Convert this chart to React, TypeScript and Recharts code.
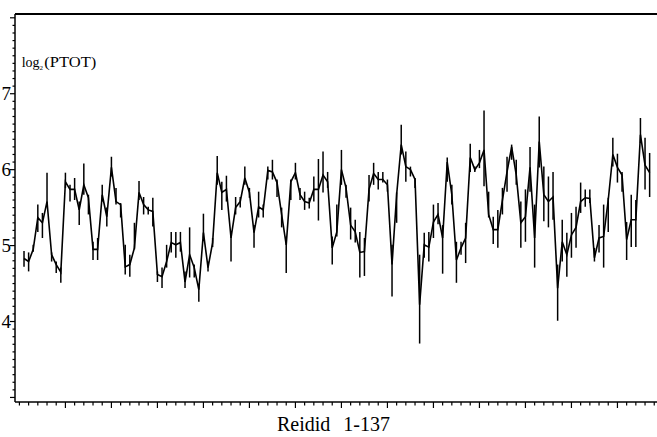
import React from "react";
import {
  LineChart,
  Line,
  XAxis,
  YAxis,
  ErrorBar,
  ReferenceLine,
} from "recharts";

// Mean log2(PTOT) per Reidid, with the low and high of each Reidid's range.
const means = [
  4.83, 4.79, 4.95, 5.37, 5.3, 5.58, 4.88, 4.75, 4.65, 5.84,
  5.74, 5.74, 5.47, 5.8, 5.63, 4.95, 4.95, 5.67, 5.38, 6.03,
  5.58, 5.54, 4.72, 4.75, 4.97, 5.7, 5.54, 5.47, 5.45, 4.62,
  4.59, 4.79, 5.04, 5.01, 5.04, 4.52, 4.88, 4.71, 4.42, 5.17,
  4.71, 5.04, 5.96, 5.7, 5.74, 5.1, 5.5, 5.58, 5.89, 5.7,
  5.17, 5.51, 5.47, 5.99, 5.97, 5.83, 5.41, 5.01, 5.84, 5.96,
  5.67, 5.58, 5.56, 5.74, 5.74, 5.93, 5.84, 4.97, 5.18, 6.0,
  5.76, 5.27, 5.18, 4.91, 4.92, 5.74, 5.95, 5.87, 5.87, 5.8,
  4.75, 5.67, 6.33, 6.04, 6.0, 5.87, 4.22, 5.01, 4.98, 5.31,
  5.41, 5.1, 6.1, 5.67, 4.81, 4.97, 5.1, 6.16, 6.0, 6.09,
  6.26, 5.41, 5.21, 5.21, 5.6, 5.97, 6.3, 5.93, 5.3, 5.38,
  6.03, 5.1, 6.37, 5.67, 5.58, 5.64, 4.44, 5.05, 4.88, 5.14,
  5.24, 5.58, 5.63, 5.62, 4.84, 5.1, 5.12, 5.6, 6.2, 6.03,
  5.93, 5.08, 5.34, 5.34, 6.46, 6.06, 5.96,
];

const lows = [
  4.72, 4.66, 4.92, 5.18, 5.1, 5.54, 4.79, 4.64, 4.51, 5.76,
  5.58, 5.6, 5.27, 5.67, 5.41, 4.81, 4.81, 5.58, 5.25, 5.91,
  5.54, 5.37, 4.62, 4.59, 4.95, 5.6, 5.41, 5.41, 5.25, 4.52,
  4.44, 4.71, 4.91, 4.84, 4.92, 4.44, 4.58, 4.58, 4.26, 5.1,
  4.66, 4.98, 5.8, 5.47, 5.58, 4.79, 5.41, 5.5, 5.8, 5.63,
  4.97, 5.37, 5.37, 5.87, 5.87, 5.64, 5.24, 4.64, 5.6, 5.87,
  5.6, 5.47, 5.49, 5.58, 5.33, 5.7, 5.76, 4.75, 5.12, 5.8,
  5.63, 5.08, 5.04, 4.58, 4.6, 5.58, 5.8, 5.74, 5.83, 5.71,
  4.33, 5.3, 6.2, 5.84, 5.91, 5.76, 3.71, 4.84, 4.79, 5.1,
  5.28, 4.63, 5.84, 5.54, 4.51, 4.88, 4.77, 5.97, 5.97, 6.02,
  5.78, 5.37, 5.02, 4.97, 5.41, 5.71, 6.13, 5.8, 4.97, 5.05,
  5.71, 4.71, 6.03, 5.32, 5.24, 5.34, 4.01, 4.79, 4.59, 4.84,
  4.97, 5.43, 5.51, 5.56, 4.79, 4.91, 4.71, 5.18, 6.04, 5.83,
  5.71, 4.81, 4.98, 4.98, 6.35, 5.74, 5.64,
];

const highs = [
  4.93, 4.91, 5.01, 5.54, 5.43, 5.96, 4.91, 4.79, 4.71, 5.96,
  5.8, 5.89, 5.58, 6.08, 5.67, 5.05, 5.1, 5.8, 5.5, 6.17,
  5.76, 5.56, 5.01, 4.88, 5.3, 5.85, 5.64, 5.51, 5.63, 4.66,
  4.71, 5.01, 5.18, 5.18, 5.18, 4.66, 5.24, 4.75, 4.48, 5.42,
  4.79, 5.1, 6.18, 5.84, 5.92, 5.17, 5.64, 5.64, 6.04, 5.76,
  5.27, 5.71, 5.54, 6.04, 6.13, 5.87, 5.5, 5.12, 5.87, 6.09,
  5.76, 5.71, 5.63, 5.91, 6.14, 6.24, 5.97, 5.12, 5.54, 6.26,
  5.8, 5.5, 5.34, 5.18, 5.1, 5.93, 6.09, 5.97, 5.97, 5.87,
  5.01, 5.7, 6.59, 6.24, 6.04, 5.89, 4.88, 5.17, 5.18, 5.54,
  5.56, 5.27, 6.16, 5.8, 5.05, 5.05, 5.3, 6.34, 6.04, 6.26,
  6.78, 5.71, 5.38, 5.47, 5.76, 6.17, 6.33, 6.13, 5.58, 5.74,
  6.3, 5.54, 6.7, 6.04, 5.91, 5.97, 4.75, 5.34, 5.17, 5.43,
  5.51, 5.83, 5.74, 5.74, 4.97, 5.27, 5.54, 5.63, 6.42, 6.21,
  5.97, 5.31, 5.67, 5.6, 6.68, 6.42, 6.22,
];

// Reidid 1..137
const reidids = means.map((_, i) => i + 1);

const yLabels = [4, 5, 6, 7];
const yMin = 2.94;
const yMax = 8.05;

// Minor y ticks every 0.1 between 3 and 8, x ticks every second Reidid.
const yTicks: number[] = [];
for (let k = 30; k <= 80; k++) yTicks.push(k / 10);
const xTicks: number[] = [];
for (let k = 0; k <= 138; k += 2) xTicks.push(k);

const data = reidids.map((id, i) => ({
  id,
  mean: means[i],
  err: [means[i] - lows[i], highs[i] - means[i]],
}));

const FONT = "'Liberation Serif', 'Times New Roman', serif";

const YTick = (props: any) => {
  const { x, y, payload } = props;
  const v: number = payload.value;
  const major = Math.abs(v - Math.round(v)) < 1e-6;
  const labelled = major && yLabels.includes(Math.round(v));
  return (
    <g>
      <line
        x1={x - (major ? 5 : 2.5)}
        x2={x}
        y1={y}
        y2={y}
        stroke="#000"
        strokeWidth={1.2}
      />
      {labelled && (
        <text
          x={x - 4}
          y={y}
          dy={6.5}
          textAnchor="end"
          fontFamily={FONT}
          fontSize={19}
          fill="#000"
        >
          {Math.round(v)}
        </text>
      )}
    </g>
  );
};

const XTick = (props: any) => {
  const { x, y, payload } = props;
  const v: number = payload.value;
  const major = v % 10 === 0 && v !== 0;
  return (
    <line
      x1={x}
      x2={x}
      y1={y}
      y2={y + (major ? 6 : 3.5)}
      stroke="#000"
      strokeWidth={1.2}
    />
  );
};

export default function App() {
  return (
    <div style={{ position: "absolute", left: 0, top: 0, background: "#fff" }}>
      <LineChart
        width={657}
        height={437}
        data={data}
        margin={{ top: 14, right: 0, bottom: 0, left: 0 }}
      >
        <XAxis
          dataKey="id"
          type="number"
          domain={[-0.96, 138.6]}
          allowDataOverflow
          ticks={xTicks}
          interval={0}
          tick={<XTick />}
          tickLine={false}
          tickSize={0}
          tickMargin={0}
          height={35}
          axisLine={{ stroke: "#000", strokeWidth: 1.5 }}
        />
        <YAxis
          type="number"
          domain={[yMin, yMax]}
          allowDataOverflow
          ticks={yTicks}
          interval={0}
          tick={<YTick />}
          tickLine={false}
          tickSize={0}
          tickMargin={0}
          width={15}
          axisLine={{ stroke: "#000", strokeWidth: 1.5 }}
        />
        <ReferenceLine y={yMax} stroke="#000" strokeWidth={2} ifOverflow="visible" />
        <Line
          dataKey="mean"
          type="linear"
          stroke="#000"
          strokeWidth={1.6}
          dot={false}
          activeDot={false}
          isAnimationActive={false}
        >
          <ErrorBar
            dataKey="err"
            direction="y"
            width={0}
            stroke="#000"
            strokeWidth={1.5}
            isAnimationActive={false}
          />
        </Line>
        <text x={21.7} y={66.5} fontFamily={FONT} fontSize={14} fill="#000">
          log
        </text>
        <text x={39.5} y={70} fontFamily={FONT} fontSize={7} fill="#000">
          2
        </text>
        <text
          x={44.3}
          y={66.5}
          fontFamily={FONT}
          fontSize={14}
          fill="#000"
          textLength={52}
          lengthAdjust="spacingAndGlyphs"
        >
          (PTOT)
        </text>
        <text x={277} y={431} fontFamily={FONT} fontSize={20} fill="#000">
          Reidid
        </text>
        <text x={390} y={431} textAnchor="end" fontFamily={FONT} fontSize={20} fill="#000">
          1-137
        </text>
      </LineChart>
    </div>
  );
}
